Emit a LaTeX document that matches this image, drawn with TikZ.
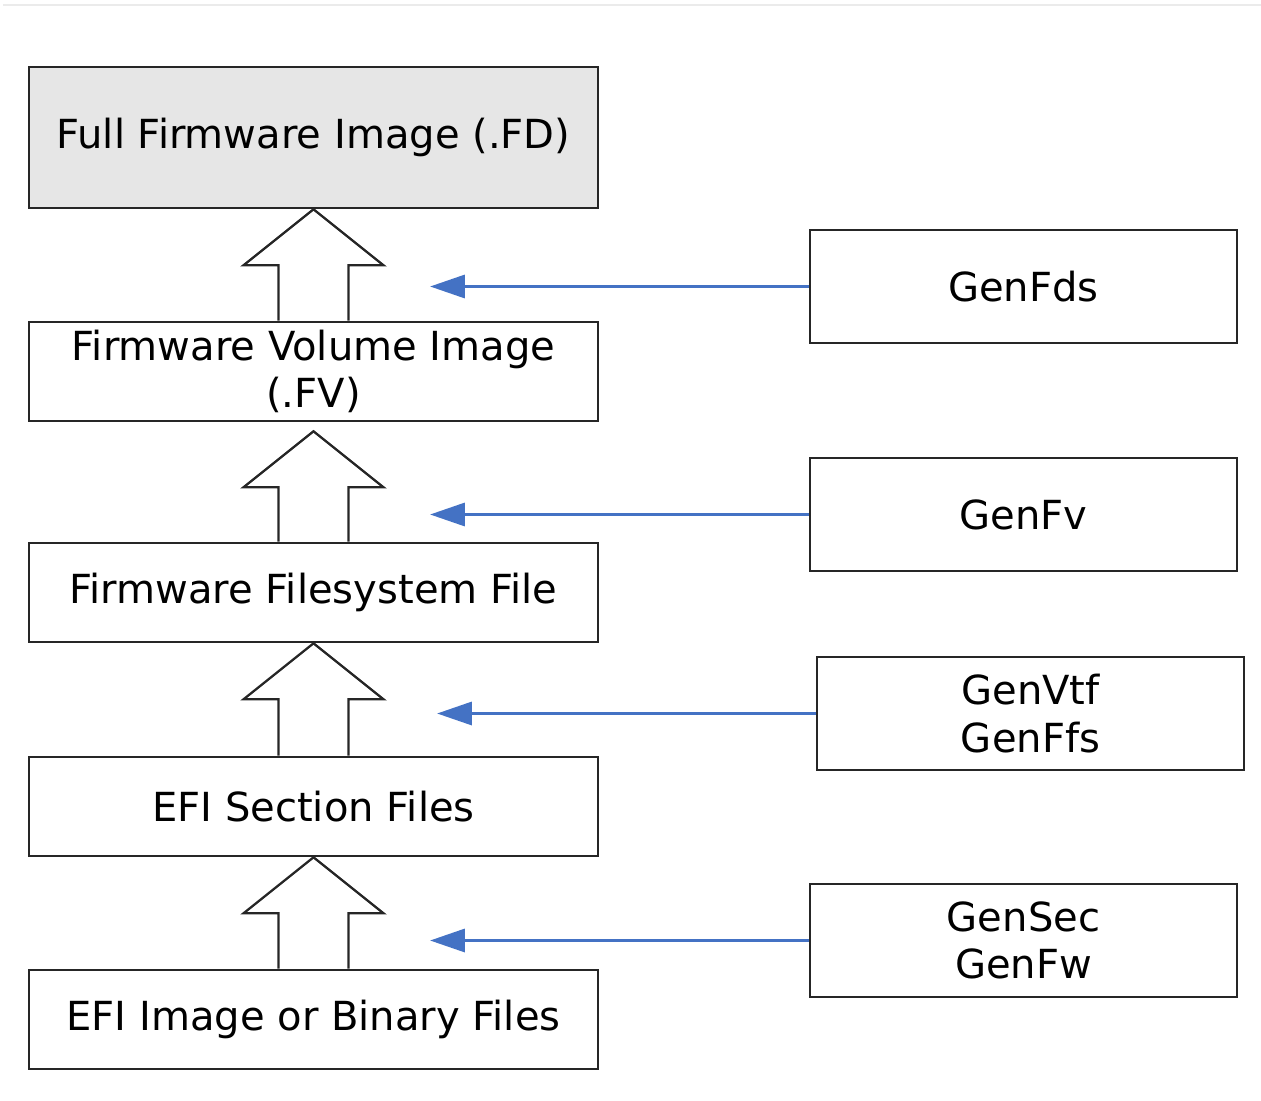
\documentclass[tikz,border=0pt]{standalone}
\usepackage{fontspec}
\setmainfont{DejaVu Sans}
\usepackage{tikz}
\usetikzlibrary{arrows.meta,
    calc,
    positioning}

\definecolor{toolblue}{HTML}{4472C4}
\definecolor{edgegray}{HTML}{262626}

\tikzset{
    stagebox/.style={draw=edgegray, line width=1.5pt, fill=white,
        minimum width=11.38cm, minimum height=1.98cm, inner sep=0pt,
        align=center, font=\fontsize{22.8pt}{27pt}\selectfont},
    toolbox/.style={draw=edgegray, line width=1.5pt, fill=white,
        minimum width=8.54cm, minimum height=2.26cm, inner sep=0pt,
        align=center, font=\fontsize{22.8pt}{27pt}\selectfont},
    liftline/.style={draw=edgegray, line width=1.3pt, line join=miter},
    toolarrow/.style={draw=toolblue, line width=2pt,
        -{Triangle[length=0.7cm, width=0.46cm]}}
}

% hollow arrow from the lower box up to the upper one
\newcommand\liftarrow[3][0]{%
    \path (#2.south) ++(0,#1) coordinate (tip)
        ++(-35,56) coordinate (la) ++(70,0) coordinate (ra);
    \draw[liftline] (la |- #3.north) -- (la) -- ++(-35,0) -- (tip)
        -- ($(ra)+(35,0)$) -- (ra) -- (ra |- #3.north);
}

\begin{document}
\begin{tikzpicture}[x=0.02cm, y=-0.02cm]
    \useasboundingbox (0,0) rectangle (1261,1101);
    \draw[color={rgb,255:red,235;green,235;blue,235}, line width=1.2pt] (3,5) -- (1261,5);

    % stages
    \node[stagebox, minimum height=2.82cm, fill={rgb,255:red,230;green,230;blue,230}]
        (fd) at (313.5,137.5) {Full Firmware Image (.FD)};
    \node[stagebox] (fv) at (313.5,371.5) {Firmware Volume Image\\(.FV)};
    \node[stagebox] (ffs) at (313.5,592.5) {Firmware Filesystem File};
    \node[stagebox] (sec) at (313.5,806.5) {EFI Section Files};
    \node[stagebox] (bin) at (313.5,1019.5) {EFI Image or Binary Files};

    \liftarrow{fd}{fv}
    \liftarrow[9]{fv}{ffs}
    \liftarrow{ffs}{sec}
    \liftarrow{sec}{bin}

    % tools
    \node[toolbox] (genfds) at (1023.5,286.5) {GenFds};
    \node[toolbox] (genfv) at (1023.5,514.5) {GenFv};
    \node[toolbox] (genffs) at (1030.5,713.5) {GenVtf\\GenFfs};
    \node[toolbox] (gensec) at (1023.5,940.5) {GenSec\\GenFw};

    \coordinate (fdsend) at (430,286.5);
    \coordinate (fvend) at (430,514.5);
    \coordinate (ffsend) at (437,713.5);
    \coordinate (secend) at (430,940.5);

    \draw[toolarrow] (genfds.west) -- (fdsend);
    \draw[toolarrow] (genfv.west) -- (fvend);
    \draw[toolarrow] (genffs.west) -- (ffsend);
    \draw[toolarrow] (gensec.west) -- (secend);
\end{tikzpicture}
\end{document}
